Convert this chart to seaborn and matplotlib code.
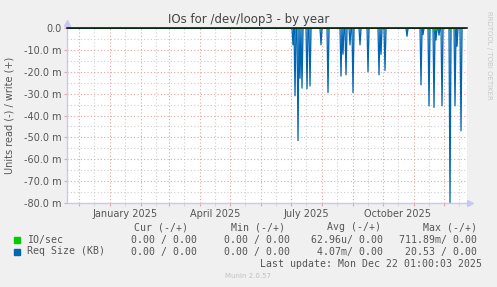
import numpy as np
import pandas as pd
import matplotlib
matplotlib.use("Agg")
import matplotlib.pyplot as plt
import matplotlib.dates as mdates
from matplotlib.ticker import FuncFormatter
import seaborn as sns

# ---------------- data (milli-units) ----------------
req_dates = ["2025-07-03", "2025-07-05", "2025-07-08", "2025-07-10", "2025-07-12",
             "2025-07-17", "2025-07-20", "2025-07-31", "2025-08-07", "2025-08-20",
             "2025-08-22", "2025-08-25", "2025-08-29", "2025-09-01", "2025-09-08",
             "2025-09-16", "2025-09-27", "2025-09-29", "2025-10-03", "2025-10-25",
             "2025-11-08", "2025-11-10", "2025-11-16", "2025-11-21", "2025-11-23",
             "2025-11-26", "2025-11-29", "2025-12-07", "2025-12-12", "2025-12-14",
             "2025-12-18"]
req_values = [-7.7, -31.0, -51.5, -23.0, -27.5,
              -27.8, -26.5, -7.7, -29.5, -22.0,
              -12.0, -21.4, -7.7, -29.5, -7.7,
              -20.0, -21.4, -12.0, -19.4, -3.8,
              -26.0, -3.0, -35.6, -36.3, -5.5,
              -3.3, -35.6, -80.0, -35.6, -8.4,
              -47.0]

io_dates = ["2025-07-08", "2025-07-19", "2025-08-07", "2025-09-27", "2025-10-02",
            "2025-11-08", "2025-11-16", "2025-11-21", "2025-11-23", "2025-12-07",
            "2025-12-12"]
io_values = [-0.8, -0.6, -0.6, -0.6, -0.6, -0.8, -1.0, -1.6, -1.0, -1.2, -0.8]

series_start = "2024-11-19"
series_end = "2025-12-22"
view_start = "2024-11-19"
view_end = "2025-12-24"

y_ticks = [0, -10, -20, -30, -40, -50, -60, -70, -80]
y_tick_labels = ["0.0", "-10.0 m", "-20.0 m", "-30.0 m", "-40.0 m",
                 "-50.0 m", "-60.0 m", "-70.0 m", "-80.0 m"]
x_label_months = {1: "January", 4: "April", 7: "July", 10: "October"}

legend_header = ["Cur (-/+)", "Min (-/+)", "Avg (-/+)", "Max (-/+)"]
legend_names = ["IO/sec", "Req Size (KB)"]
legend_rows = [["0.00 / 0.00", "0.00 / 0.00", "62.96u/ 0.00", "711.89m/ 0.00"],
               ["0.00 / 0.00", "0.00 / 0.00", "4.07m/ 0.00", "20.53 / 0.00"]]
series_colors = ["#00cc00", "#0066b3"]

# ---------------- build frames ----------------
days = pd.date_range(series_start, series_end, freq="D")
req = pd.Series(0.0, index=days)
req.loc[pd.to_datetime(req_dates)] = req_values
io = pd.Series(0.0, index=days)
io.loc[pd.to_datetime(io_dates)] = io_values
df = pd.DataFrame({"date": days, "req": req.values, "io": io.values})

W, H = 497, 287
fig = plt.figure(figsize=(W / 100, H / 100), dpi=100, facecolor="#f0f0f0")
ax = fig.add_axes([67 / W, 1 - 203 / H, 400 / W, 175 / H])
ax.set_facecolor("white")

# grid
ax.set_ylim(-80, 0)
ax.set_xlim(pd.Timestamp(view_start), pd.Timestamp(view_end))
ax.set_yticks(y_ticks)
ax.set_yticklabels(y_tick_labels)
ax.set_yticks(np.arange(-75, 0, 10), minor=True)
ax.xaxis.set_major_locator(mdates.MonthLocator(bymonthday=1))
ax.xaxis.set_minor_locator(mdates.MonthLocator(bymonthday=16))
ax.xaxis.set_major_formatter(FuncFormatter(lambda v, p: ""))


def minor_fmt(v, p):
    d = mdates.num2date(v)
    if d.month in x_label_months:
        return f"{x_label_months[d.month]} {d.year}"
    return ""


ax.xaxis.set_minor_formatter(FuncFormatter(minor_fmt))
dot = (0, (1, 2))
ax.grid(True, which="major", color="#e9a3a3", linestyle=dot, linewidth=0.8)
ax.grid(True, which="minor", color="#cfcfcf", linestyle=dot, linewidth=0.8)
ax.set_axisbelow(True)

ax.tick_params(axis="both", which="both", labelsize=7, labelcolor="#555555")
ax.tick_params(axis="x", which="major", length=2, color="#e9a3a3")
ax.tick_params(axis="x", which="minor", length=2, color="#cfcfcf", pad=2)
ax.tick_params(axis="y", which="major", length=2, color="#e9a3a3", pad=2)
ax.tick_params(axis="y", which="minor", length=0)

for s in ["top", "right"]:
    ax.spines[s].set_visible(False)
for s in ["left", "bottom"]:
    ax.spines[s].set_color("#c8c8f4")
    ax.spines[s].set_linewidth(1.0)

# data
ax.fill_between(df["date"], df["req"], 0, color="#0066b3", alpha=0.35, linewidth=0)
sns.lineplot(data=df, x="date", y="req", ax=ax, color="#0066b3", linewidth=0.9)
sns.lineplot(data=df, x="date", y="io", ax=ax, color="#00cc00", linewidth=0.8)
ax.axhline(0, color="black", linewidth=1.1, clip_on=False, zorder=5)
ax.set_xlabel("")
ax.set_ylabel("")

# arrows
ax.plot([0], [1.03], marker="^", markersize=4, color="#c8c8f4",
        transform=ax.transAxes, clip_on=False)
ax.plot([1.008], [0], marker=">", markersize=4, color="#c8c8f4",
        transform=ax.transAxes, clip_on=False)


def px(x, y):
    return x / W, 1 - y / H


fig.text(*px(248.5, 19), "IOs for /dev/loop3 - by year", ha="center", va="center",
         fontsize=8.5, color="#444444")
fig.text(*px(10, 115), "Units read (-) / write (+)", rotation=90, ha="center",
         va="center", fontsize=7, color="#555555")
fig.text(*px(489, 55), "RRDTOOL / TOBI OETIKER", rotation=270, ha="center",
         va="center", fontsize=5, color="#c8c8c8")

mono = "DejaVu Sans Mono"
fs = 7.1
tc = "#555555"
for xh, t in zip([134.3, 231, 327.3, 422.7], legend_header):
    fig.text(*px(xh, 227.5), t, ha="left", va="center", family=mono, fontsize=fs, color=tc)
rights = [196.7, 290, 383.3, 476.7]
for i, (name, row, col) in enumerate(zip(legend_names, legend_rows, series_colors)):
    yy = 239.5 + i * 12
    fig.patches.append(plt.Rectangle(px(14, yy + 3), 6 / W, 6 / H, color=col,
                                     transform=fig.transFigure, figure=fig))
    fig.text(*px(26.7, yy), name, ha="left", va="center", family=mono, fontsize=fs, color=tc)
    for xr, t in zip(rights, row):
        fig.text(*px(xr, yy), t, ha="right", va="center", family=mono, fontsize=fs, color=tc)
fig.text(*px(482.3, 263.7), "Last update: Mon Dec 22 01:00:03 2025", ha="right",
         va="center", family=mono, fontsize=fs, color=tc)
fig.text(*px(248, 276), "Munin 2.0.57", ha="center", va="center", fontsize=5,
         color="#c0c0c0")

fig.savefig("out.png", dpi=100, facecolor=fig.get_facecolor())
